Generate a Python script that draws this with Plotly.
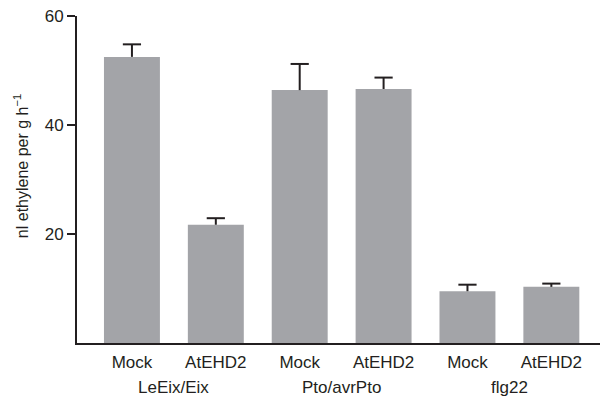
import plotly.graph_objects as go

groups = ["LeEix/Eix", "LeEix/Eix", "Pto/avrPto", "Pto/avrPto", "flg22", "flg22"]
conditions = ["Mock", "AtEHD2", "Mock", "AtEHD2", "Mock", "AtEHD2"]
values = [52.5, 21.7, 46.4, 46.6, 9.5, 10.3]
errors = [2.3, 1.2, 4.8, 2.1, 1.2, 0.6]
y_ticks = [20, 40, 60]

positions = list(range(len(conditions)))
tops = [v + e for v, e in zip(values, errors)]
dark = "#231f20"

fig = go.Figure()
fig.add_trace(go.Bar(
    x=positions,
    y=values,
    width=0.667,
    marker=dict(color="#a3a4a8", line=dict(width=0)),
    error_y=dict(type="data", symmetric=False, array=errors,
                 arrayminus=[0] * len(errors),
                 color=dark, thickness=2, width=0),
    hoverinfo="y",
))
fig.add_trace(go.Scatter(
    x=positions,
    y=tops,
    mode="markers",
    marker=dict(symbol="line-ew", size=13, line=dict(color=dark, width=2)),
    hoverinfo="skip",
))

# group labels centred under their bars
group_names = []
for g in groups:
    if g not in group_names:
        group_names.append(g)
for g in group_names:
    xs = [p for p, gg in zip(positions, groups) if gg == g]
    fig.add_annotation(
        x=sum(xs) / len(xs), xref="x", y=0, yref="paper",
        text=g, showarrow=False, xanchor="center", yanchor="top",
        yshift=-33, font=dict(size=17, color=dark),
    )

fig.add_annotation(
    x=-0.107, xref="paper", y=0.541, yref="paper",
    text="nl ethylene per g h<sup>−1</sup>", textangle=-90,
    showarrow=False, xanchor="center", yanchor="middle",
    font=dict(size=16, color=dark),
)

fig.update_layout(
    width=603, height=398,
    margin=dict(l=77, r=3, t=16, b=55),
    plot_bgcolor="white", paper_bgcolor="white",
    font=dict(family="Liberation Sans, Arial, sans-serif", size=17, color=dark),
    showlegend=False,
)
fig.update_xaxes(
    automargin=False,
    range=[-0.655, 5.58],
    tickmode="array", tickvals=positions, ticktext=conditions,
    ticklabelstandoff=3,
    showline=True, linecolor=dark, linewidth=2,
    ticks="", showgrid=False, zeroline=False,
    tickfont=dict(size=17, color=dark),
)
fig.update_yaxes(
    range=[0, 60], tickvals=y_ticks, ticktext=[str(v) for v in y_ticks],
    automargin=False,
    showline=True, linecolor=dark, linewidth=2,
    ticks="outside", ticklen=8, tickwidth=2, tickcolor=dark,
    showgrid=False, zeroline=False,
    tickfont=dict(size=17, color=dark),
)

fig.write_html("out.html", config={"displayModeBar": False},
               post_script="document.body.style.margin='0';document.body.style.overflow='hidden';")
